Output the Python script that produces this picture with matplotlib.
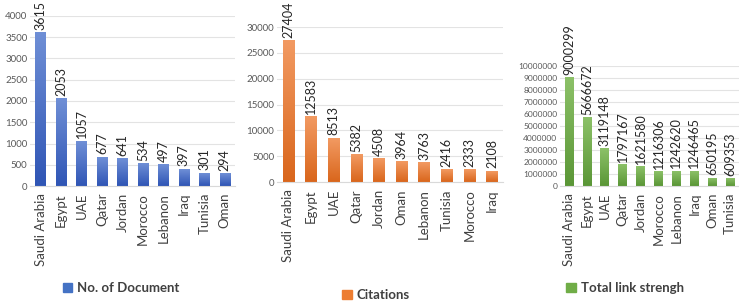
import matplotlib.pyplot as plt
import matplotlib.colors as mcolors
from matplotlib.patches import Patch
import numpy as np

plt.rcParams['font.family'] = ['Lato', 'DejaVu Sans']

doc_countries = ["Saudi Arabia", "Egypt", "UAE", "Qatar", "Jordan", "Morocco",
                 "Lebanon", "Iraq", "Tunisia", "Oman"]
doc_values = [3615, 2053, 1057, 677, 641, 534, 497, 397, 301, 294]

cit_countries = ["Saudi Arabia", "Egypt", "UAE", "Qatar", "Jordan", "Oman",
                 "Lebanon", "Tunisia", "Morocco", "Iraq"]
cit_values = [27404, 12583, 8513, 5382, 4508, 3964, 3763, 2416, 2333, 2108]

link_countries = ["Saudi Arabia", "Egypt", "UAE", "Qatar", "Jordan", "Morocco",
                  "Lebanon", "Iraq", "Oman", "Tunisia"]
link_values = [9000299, 5666672, 3119148, 1797167, 1621580, 1216306,
               1242620, 1246465, 650195, 609353]

panels = [
    dict(cats=doc_countries, vals=doc_values, label="No. of Document",
         top="#6f8fd6", bot="#2f55b5", solid="#4472c4",
         rect=[0.041, 0.382, 0.277, 0.565], ymax=4000, step=500, tfs=7,
         leg=(0.164, 0.043)),
    dict(cats=cit_countries, vals=cit_values, label="Citations",
         top="#f29a62", bot="#d9661c", solid="#ed7d31",
         rect=[0.375, 0.395, 0.306, 0.515], ymax=30000, step=5000, tfs=7,
         leg=(0.509, 0.02)),
    dict(cats=link_countries, vals=link_values, label="Total link strengh",
         top="#8cc168", bot="#5a9636", solid="#70ad47",
         rect=[0.758, 0.382, 0.242, 0.399], ymax=10000000, step=1000000, tfs=6,
         leg=(0.846, 0.043)),
]

fig = plt.figure(figsize=(7.39, 3.01), dpi=100)

for p in panels:
    ax = fig.add_axes(p["rect"])
    x = np.arange(len(p["cats"]))
    bars = ax.bar(x, p["vals"], width=0.5, color="none", zorder=2)
    # excel-like vertical gradient inside each bar
    cmap = mcolors.LinearSegmentedColormap.from_list("g", [p["bot"], p["top"]])
    grad = np.linspace(0, 1, 100).reshape(-1, 1)
    for b in bars:
        ax.imshow(grad, extent=[b.get_x(), b.get_x() + b.get_width(), 0, b.get_height()],
                  origin="lower", aspect="auto", cmap=cmap, zorder=2)
    for xi, v in zip(x, p["vals"]):
        ax.annotate(str(v), (xi, v), xytext=(0, 2), textcoords="offset points",
                    rotation=90, ha="center", va="bottom", fontsize=9,
                    color="#262626", annotation_clip=False)
    ax.set_xlim(-0.5, len(x) - 0.5)
    ax.set_ylim(0, p["ymax"])
    ax.set_yticks(np.arange(0, p["ymax"] + 1, p["step"]))
    ax.ticklabel_format(axis="y", style="plain", useOffset=False)
    ax.set_xticks(x)
    ax.set_xticklabels(p["cats"], rotation=90, fontsize=9.5, color="#404040")
    ax.tick_params(axis="y", labelsize=p["tfs"], labelcolor="#595959", length=0, pad=2)
    ax.tick_params(axis="x", length=0, pad=5)
    ax.grid(axis="y", color="#e3e3e3", linewidth=0.8, zorder=0)
    ax.set_axisbelow(True)
    for s in ["top", "right", "left"]:
        ax.spines[s].set_visible(False)
    ax.spines["bottom"].set_color("#d9d9d9")
    ax.legend(handles=[Patch(color=p["solid"], label=p["label"])],
              loc="center", bbox_to_anchor=p["leg"], bbox_transform=fig.transFigure,
              frameon=False, handlelength=0.7, handleheight=0.7, handletextpad=0.4,
              borderpad=0, prop={"size": 9.5, "weight": "bold"}, labelcolor="#404040")

fig.savefig("out.png", dpi=100)
